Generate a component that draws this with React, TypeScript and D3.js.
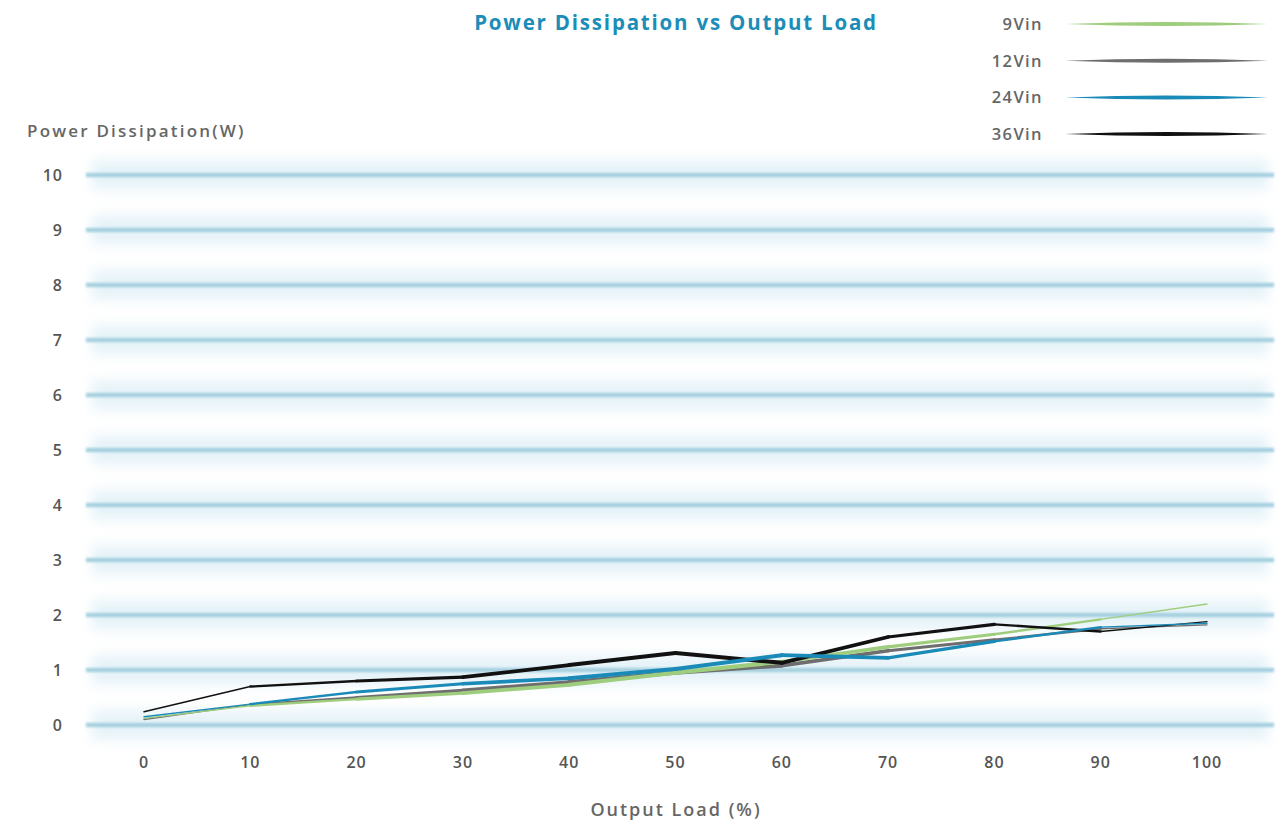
import React from "react";
import * as d3 from "d3";

const loads = [0, 10, 20, 30, 40, 50, 60, 70, 80, 90, 100];
const yTicks = [0, 1, 2, 3, 4, 5, 6, 7, 8, 9, 10];
const v9 = [0.12, 0.35, 0.47, 0.58, 0.73, 0.95, 1.15, 1.42, 1.65, 1.92, 2.2];
const v12 = [0.1, 0.37, 0.5, 0.63, 0.78, 0.95, 1.08, 1.35, 1.55, 1.75, 1.82];
const v24 = [0.15, 0.38, 0.6, 0.75, 0.85, 1.02, 1.27, 1.22, 1.52, 1.78, 1.85];
const v36 = [0.24, 0.7, 0.8, 0.87, 1.09, 1.31, 1.13, 1.6, 1.83, 1.7, 1.88];
const seriesNames = ["9Vin", "12Vin", "24Vin", "36Vin"];
const seriesColors = ["#9fcd7e", "#6e6e6e", "#1a8ab8", "#111111"];

const W = 1278;
const H = 824;

export default function App() {
  const x = d3.scaleLinear().domain([0, 100]).range([144, 1207]);
  const y = d3.scaleLinear().domain([0, 10]).range([725, 175]);
  const all = [v9, v12, v24, v36];
  const font = "'Open Sans', Lato, sans-serif";
  const n = loads.length - 1;
  const taper = (t: number) => 0.9 + 3.2 * Math.sin(Math.PI * Math.min(1, Math.max(0, t)));
  const drawOrder = [1, 0, 3, 2];

  return (
    <svg width={W} height={H} style={{ position: "absolute", left: 0, top: 0, background: "#fff" }}>
      <defs>
        <filter id="glow" x="-5%" y="-200%" width="110%" height="500%">
          <feGaussianBlur stdDeviation="6 7" />
        </filter>
        <filter id="soft" x="-5%" y="-200%" width="110%" height="500%">
          <feGaussianBlur stdDeviation="1 1" />
        </filter>
      </defs>
      <rect x={0} y={0} width={W} height={H} fill="#fff" />
      {yTicks.map((t) => (
        <g key={"g" + t}>
          <rect x={92} y={y(t) - 14} width={1176} height={28} fill="#d6ebf4" opacity={0.65} filter="url(#glow)" />
          <rect x={86} y={y(t) - 2.2} width={1188} height={4.4} fill="#a6d0e0" filter="url(#soft)" />
          <text x={63} y={y(t) + 6} textAnchor="end" fontFamily={font} fontSize={16} fontWeight={600} letterSpacing={1} fill="#555">
            {t}
          </text>
        </g>
      ))}
      {loads.map((l) => (
        <text key={"x" + l} x={x(l)} y={768} textAnchor="middle" fontFamily={font} fontSize={16} fontWeight={600} letterSpacing={1} fill="#555">
          {l}
        </text>
      ))}
      {drawOrder.map((si) => {
        const vals = all[si];
        return (
          <g key={"s" + si}>
            {vals.slice(0, -1).map((v, i) => (
              <line
                key={i}
                x1={x(loads[i])}
                y1={y(v)}
                x2={x(loads[i + 1])}
                y2={y(vals[i + 1])}
                stroke={seriesColors[si]}
                strokeWidth={taper((i + 0.5) / n)}
                strokeLinecap="round"
              />
            ))}
          </g>
        );
      })}
      <text x={676} y={30} textAnchor="middle" fontFamily={font} fontSize={20.5} fontWeight={700} letterSpacing={1.8} fill="#1b8db8">
        Power Dissipation vs Output Load
      </text>
      <text x={27} y={137} fontFamily={font} fontSize={17} fontWeight={600} letterSpacing={2.2} fill="#666">
        Power Dissipation(W)
      </text>
      <text x={676} y={816} textAnchor="middle" fontFamily={font} fontSize={18} fontWeight={600} letterSpacing={2} fill="#666">
        Output Load (%)
      </text>
      {seriesNames.map((name, i) => {
        const ly = 24 + i * 36.7;
        const x0 = 1065;
        const x1 = 1268;
        const xm = (x0 + x1) / 2;
        const h = 4;
        return (
          <g key={"l" + i}>
            <text x={1043} y={ly + 6} textAnchor="end" fontFamily={font} fontSize={16.5} fontWeight={600} letterSpacing={1.4} fill="#666">
              {name}
            </text>
            <path
              d={`M${x0},${ly} Q${xm},${ly - h} ${x1},${ly} Q${xm},${ly + h} ${x0},${ly} Z`}
              fill={seriesColors[i]}
            />
          </g>
        );
      })}
    </svg>
  );
}
